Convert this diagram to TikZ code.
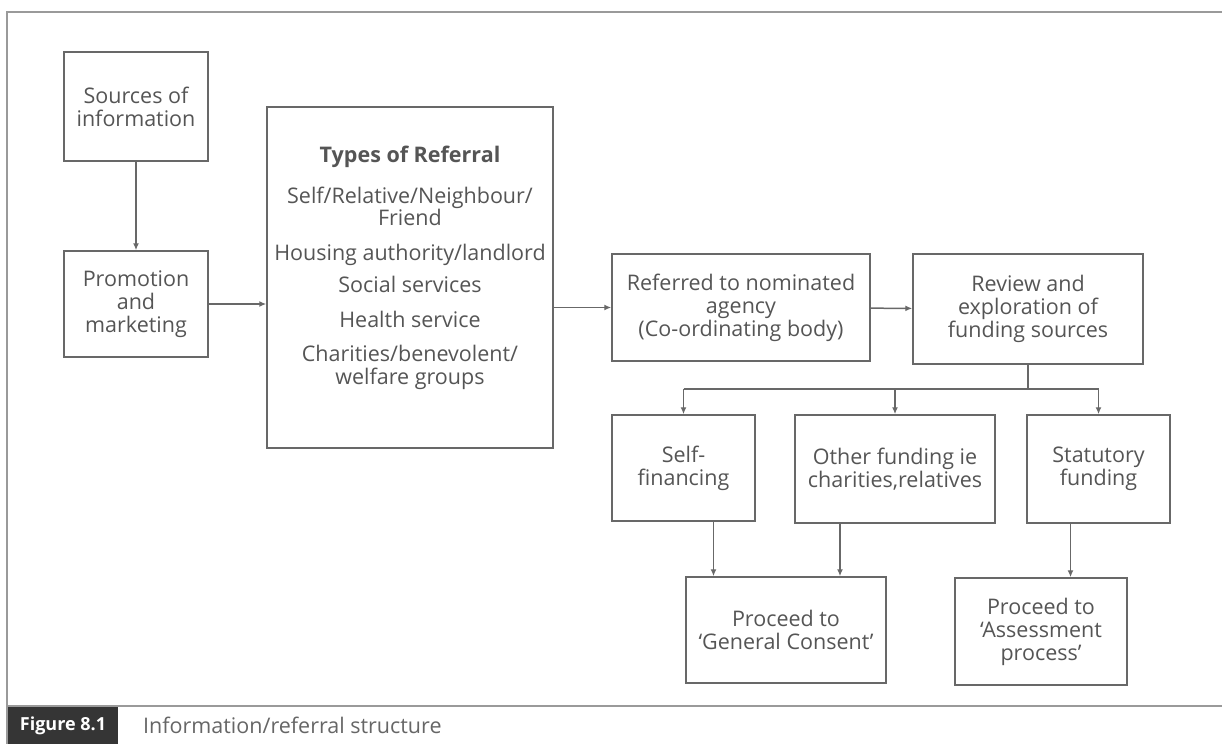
\documentclass[tikz,border=0pt]{standalone}
\usepackage{fontspec}
\setmainfont{Open Sans}
\usetikzlibrary{arrows.meta}
\definecolor{ink}{HTML}{555555}
\definecolor{rule}{HTML}{686868}
\definecolor{framecol}{HTML}{9A9A9A}
\definecolor{capbg}{HTML}{353535}

\begin{document}
\begin{tikzpicture}[x=1pt,y=-1pt,
  box/.style={draw=rule, line width=1.5pt, text=ink, align=center, inner sep=0pt,
    font=\fontsize{21.5}{23}\selectfont},
  txt/.style={text=ink, align=center, inner sep=0pt, font=\fontsize{21.5}{22.5}\selectfont},
  link/.style={draw=rule, line width=1.5pt, -{Latex[length=7pt,width=6pt]}},
  plain/.style={draw=rule, line width=1.5pt},
]
\useasboundingbox (0,0) rectangle (1222,744);

% outer frame and caption rule
\draw[framecol, line width=1.6pt] (1222,12) -- (7,12) -- (7,744);
\draw[framecol, line width=1.6pt] (7,706) -- (1222,706);

% caption
\node[fill=capbg, text=white, inner sep=0pt, minimum width=110pt, minimum height=37pt,
      font=\fontsize{18}{20}\selectfont\bfseries] (figtag) at (63,725.5) {Figure 8.1};
\node[txt, anchor=west, text=ink!90, font=\fontsize{21.5}{22}\selectfont] (figcap) at (143,725.5)
      {Information/referral structure};

% left column
\node[box, minimum width=144pt, minimum height=109pt] (src) at (136,106.5)
      {Sources of\\information};
\node[box, minimum width=144pt, minimum height=106pt] (prom) at (136,304)
      {Promotion\\and\\marketing};

% referral types
\node[box, minimum width=286pt, minimum height=341pt] (types) at (410,277.5) {};
\node[txt, anchor=north] (typeslist) at (410,146)
      {\textbf{Types of Referral}\\[18pt]
       Self/Relative/Neighbour/\\Friend\\[12pt]
       Housing authority/landlord\\[10pt]
       Social services\\[12pt]
       Health service\\[12pt]
       Charities/benevolent/\\welfare groups};

% agency and review
\node[box, minimum width=258pt, minimum height=107pt] (ref) at (741,307.5)
      {Referred to nominated\\agency\\(Co-ordinating body)};
\node[box, minimum width=230pt, minimum height=110pt] (rev) at (1028,309)
      {Review and\\exploration of\\funding sources};

% funding options
\node[box, minimum width=143pt, minimum height=106pt] (selff) at (683.5,468)
      {Self-\\financing};
\node[box, minimum width=200pt, minimum height=108pt] (other) at (895,469)
      {Other funding ie\\charities,relatives};
\node[box, minimum width=143pt, minimum height=108pt] (stat) at (1098.5,469)
      {Statutory\\funding};

% outcomes
\node[box, minimum width=200pt, minimum height=106pt] (genc) at (786,630)
      {Proceed to\\‘General Consent’};
\node[box, minimum width=172pt, minimum height=107pt] (assess) at (1041,631.5)
      {Proceed to\\‘Assessment\\process’};

% connectors
\draw[link] (src) -- (prom);
\draw[link] (prom) -- (prom -| types.west);
\draw[link] (ref.west -| types.east) -- (ref.west);
\draw[link] (ref) -- (rev);

\coordinate (split) at ([yshift=-24pt]rev.south -| rev.south);
\draw[plain] (rev.south) -- (split);
\draw[plain] (selff.north |- split) -- (stat.north |- split);
\draw[link] (selff.north |- split) -- (selff.north);
\draw[link] (other.north |- split) -- (other.north);
\draw[link] (stat.north |- split) -- (stat.north);

\draw[link] ([xshift=30pt]selff.south) -- ([xshift=30pt]selff.south |- genc.north);
\draw[link] ([xshift=-55pt]other.south) -- ([xshift=-55pt]other.south |- genc.north);
\draw[link] ([xshift=-28pt]stat.south) -- ([xshift=-28pt]stat.south |- assess.north);
\end{tikzpicture}
\end{document}
